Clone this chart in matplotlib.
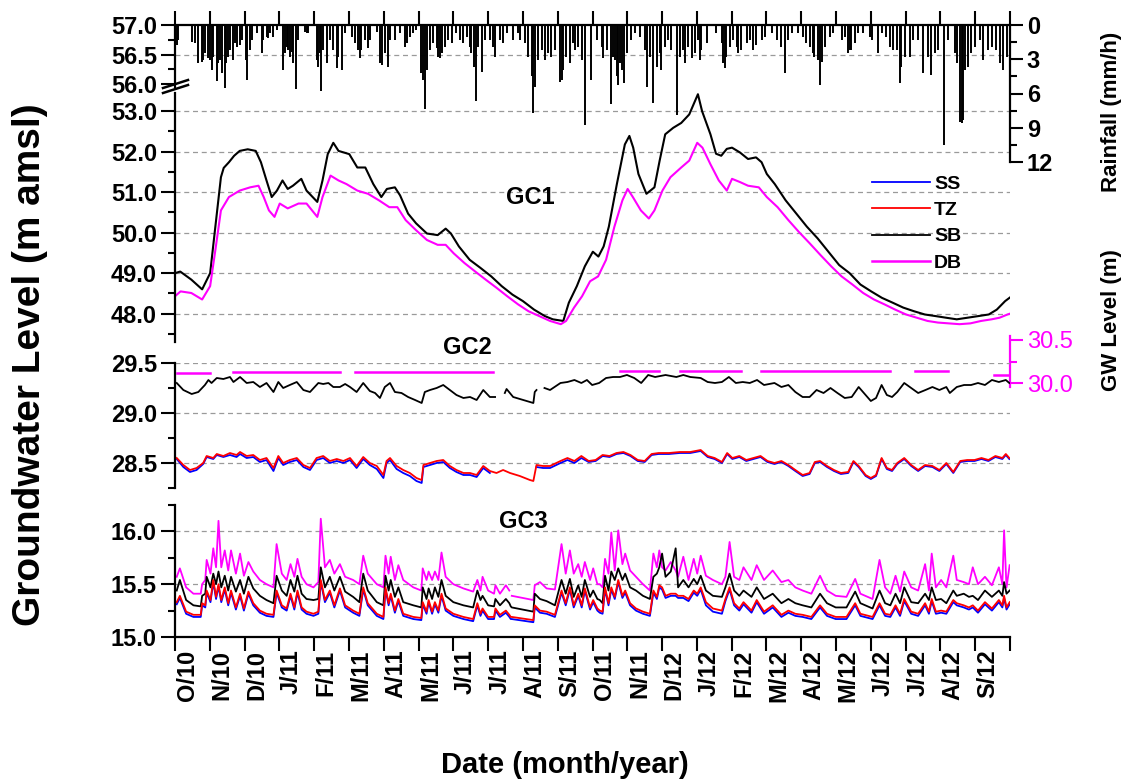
import numpy as np
import matplotlib
matplotlib.use("Agg")
from matplotlib import pyplot as plt
from matplotlib.ticker import MultipleLocator, FixedLocator, FixedFormatter, FormatStrFormatter, NullFormatter
from matplotlib.lines import Line2D

plt.rcParams["font.family"] = ["Liberation Sans", "DejaVu Sans"]
plt.rcParams["font.weight"] = "bold"

nan = np.nan

# time axis in months since 1 Oct 2010
months = ["O/10", "N/10", "D/10", "J/11", "F/11", "M/11", "A/11", "M/11", "J/11", "J/11", "A/11", "S/11",
          "O/11", "N/11", "D/12", "J/12", "F/12", "M/12", "A/12", "M/12", "J/12", "J/12", "A/12", "S/12"]

# rainfall events (mm/h)
rain_t = [0.05, 0.10, 0.48, 0.57, 0.67, 0.77, 0.81, 0.86, 0.96,
          1.01, 1.05, 1.10, 1.20, 1.25, 1.29, 1.34, 1.44, 1.48, 1.53, 1.58, 1.68, 1.72, 1.77, 1.87, 1.92,
          2.04, 2.08, 2.16, 2.20, 2.35, 2.49, 2.54, 2.63, 2.68, 2.73, 2.83, 2.92,
          3.11, 3.16, 3.21, 3.26, 3.30, 3.35, 3.40, 3.47, 3.54, 3.74, 3.78, 3.83,
          4.07, 4.12, 4.17, 4.21, 4.26, 4.36, 4.45, 4.55, 4.65, 4.69, 4.79, 4.89,
          5.08, 5.17, 5.27, 5.32, 5.36, 5.46, 5.56, 5.60, 5.80, 5.89, 5.94, 6.03, 6.13,
          6.18, 6.32, 6.47, 6.61, 6.68, 6.75, 6.85, 6.94,
          7.06, 7.12, 7.18, 7.23, 7.33, 7.42, 7.52, 7.57, 7.61, 7.66, 7.76, 7.85, 7.95,
          8.09, 8.19, 8.29, 8.38, 8.48, 8.52, 8.59, 8.64, 8.72, 8.81, 8.91,
          9.05, 9.15, 9.20, 9.34, 9.43, 9.53, 9.72, 9.87, 9.91,
          10.06, 10.15, 10.25, 10.30, 10.34, 10.44, 10.54, 10.63, 10.73, 10.82, 10.92,
          11.06, 11.11, 11.16, 11.25, 11.35, 11.45, 11.49, 11.59, 11.69, 11.78,
          11.97, 12.12, 12.26, 12.31, 12.41, 12.53, 12.60, 12.64, 12.69, 12.74, 12.79, 12.84, 12.91, 12.98,
          13.12, 13.22, 13.36, 13.51, 13.58, 13.65, 13.74, 13.84, 13.94, 13.98,
          14.08, 14.18, 14.27, 14.42, 14.51, 14.61, 14.66, 14.75, 14.85, 14.94, 15.02,
          15.09, 15.13, 15.28, 15.56, 15.71, 15.76, 15.80, 15.85, 15.95, 16.04,
          16.14, 16.19, 16.28, 16.43, 16.52, 16.62, 16.71, 16.86, 16.95,
          17.15, 17.29, 17.43, 17.53, 17.62, 17.72, 17.91,
          18.05, 18.14, 18.24, 18.33, 18.38, 18.49, 18.53, 18.60, 18.68, 18.82, 18.92,
          19.16, 19.25, 19.35, 19.40, 19.44, 19.54, 19.64, 19.78, 19.97, 20.02,
          20.21, 20.31, 20.45, 20.55, 20.64, 20.74, 20.83, 20.88, 20.98,
          21.12, 21.22, 21.36, 21.50, 21.65, 21.74, 21.84, 21.93,
          22.11, 22.22, 22.41, 22.49, 22.56, 22.61, 22.65, 22.70, 22.80, 22.89, 22.99,
          23.13, 23.23, 23.37, 23.47, 23.61, 23.71, 23.80, 23.90]
rain_mm = [1.75, 1.31, 1.46, 1.6, 3.36, 3.21, 3.06, 2.48, 2.92,
           3.06, 3.94, 2.77, 4.9, 3.36, 3.06, 4.23, 5.49, 3.36, 2.77, 2.19, 3.06, 1.6, 1.9, 1.75, 1.31,
           3.06, 4.82, 2.19, 1.31, 0.73, 2.48, 1.31, 1.02, 1.17, 0.73, 1.02, 0.44,
           3.94, 2.48, 1.9, 2.19, 2.77, 2.33, 3.36, 5.6, 1.31, 0.58, 0.73, 0.73,
           3.06, 3.65, 2.48, 5.78, 2.19, 3.36, 1.31, 2.19, 3.8, 2.77, 3.94, 0.73,
           1.02, 1.6, 2.19, 2.92, 2.19, 1.31, 2.04, 1.31, 0.58, 3.36, 3.5, 2.48, 3.65,
           1.31, 1.31, 0.73, 1.9, 1.6, 1.02, 0.73, 0.44,
           4.23, 4.82, 7.4, 3.94, 2.19, 1.6, 2.04, 2.77, 2.92, 2.48, 1.9, 1.31, 1.6,
           0.73, 1.31, 1.6, 1.02, 1.9, 2.48, 3.65, 6.63, 1.9, 4.09, 1.31,
           1.31, 1.9, 2.77, 1.31, 1.6, 0.73, 1.31, 0.73, 1.31,
           1.6, 2.77, 4.5, 7.74, 5.4, 3.06, 2.19, 3.06, 2.48, 2.77, 2.19,
           4.96, 4.82, 3.94, 2.77, 3.36, 1.6, 2.19, 1.9, 3.06, 8.76,
           4.82, 1.31, 1.9, 2.92, 2.19, 6.92, 2.77, 3.06, 4.5, 5.25, 3.36, 3.94, 5.11, 2.48,
           1.31, 0.73, 1.02, 2.19, 5.4, 2.77, 6.86, 3.65, 2.48, 3.94,
           1.9, 1.31, 2.19, 7.88, 2.77, 2.19, 3.36, 1.9, 2.92, 2.48, 1.31,
           3.06, 2.19, 1.6, 0.73, 1.6, 3.36, 3.8, 2.77, 1.9, 1.31,
           1.9, 2.48, 2.19, 1.6, 1.31, 2.19, 1.75, 1.31, 1.02,
           0.73, 1.31, 1.9, 4.23, 1.31, 0.73, 0.73,
           1.02, 1.6, 1.9, 2.48, 2.77, 3.06, 5.25, 3.21, 1.9, 1.02, 0.73,
           1.31, 1.02, 2.48, 2.19, 2.19, 1.6, 0.73, 0.73, 1.02, 1.31,
           2.48, 0.73, 1.02, 1.9, 2.19, 2.19, 5.11, 3.65, 2.77,
           2.77, 1.31, 1.31, 4.23, 2.77, 4.36, 2.48, 2.19,
           10.5, 1.31, 2.48, 3.36, 8.47, 8.55, 8.3, 3.94, 3.65, 2.48, 1.9,
           1.31, 3.06, 2.19, 1.9, 2.19, 3.36, 3.94, 2.77]

# GC1 (m amsl)
gc1_sb_t = [0.0, 0.15, 0.47, 0.78, 1.01, 1.16, 1.32, 1.40, 1.55, 1.70, 1.86, 2.09, 2.32, 2.47, 2.63,
            2.78, 2.93, 3.09, 3.24, 3.39, 3.63, 3.78, 4.09, 4.24, 4.39, 4.55, 4.70, 5.01, 5.24, 5.47,
            5.70, 5.93, 6.09, 6.32, 6.47, 6.70, 6.93, 7.24, 7.55, 7.78, 7.93, 8.16, 8.47, 8.78, 9.09,
            9.39, 9.70, 10.00, 10.32, 10.63, 10.86, 11.16, 11.32, 11.55, 11.78, 12.01, 12.17, 12.32, 12.47, 12.70,
            12.93, 13.06, 13.17, 13.32, 13.55, 13.78, 13.93, 14.09, 14.32, 14.55, 14.78, 15.03, 15.15, 15.39, 15.55,
            15.70, 15.86, 16.01, 16.24, 16.47, 16.70, 16.86, 17.01, 17.24, 17.55, 17.86, 18.16, 18.47, 18.78, 19.09,
            19.39, 19.70, 20.01, 20.32, 20.63, 20.93, 21.24, 21.55, 21.86, 22.16, 22.47, 22.78, 23.09, 23.39, 23.62,
            23.86, 24.0]
gc1_sb = [49.0, 49.04, 48.84, 48.6, 49.0, 50.15, 51.37, 51.6, 51.74, 51.9, 52.02, 52.06, 52.02, 51.74, 51.29,
          50.88, 51.04, 51.29, 51.08, 51.16, 51.33, 51.04, 50.76, 51.29, 51.94, 52.22, 52.02, 51.94, 51.61, 51.61,
          51.2, 50.88, 51.08, 51.12, 50.92, 50.47, 50.23, 49.98, 49.94, 50.1, 49.98, 49.66, 49.33, 49.13, 48.92,
          48.68, 48.47, 48.31, 48.1, 47.94, 47.86, 47.82, 48.27, 48.68, 49.17, 49.53, 49.41, 49.66, 50.15, 51.2,
          52.18, 52.39, 52.1, 51.45, 50.96, 51.12, 51.78, 52.43, 52.59, 52.71, 52.92, 53.42, 53.0, 52.43, 51.95,
          51.9, 52.07, 52.1, 51.98, 51.82, 51.86, 51.74, 51.45, 51.2, 50.8, 50.47, 50.15, 49.86, 49.53, 49.2,
          49.0, 48.72, 48.55, 48.39, 48.27, 48.15, 48.06, 47.98, 47.94, 47.9, 47.86, 47.9, 47.94, 47.98, 48.1,
          48.31, 48.40]
gc1_db_t = [0.0, 0.16, 0.47, 0.78, 1.01, 1.16, 1.32, 1.55, 1.86, 2.16, 2.40, 2.55, 2.70, 2.86, 3.01,
            3.24, 3.55, 3.78, 4.09, 4.24, 4.47, 4.70, 4.93, 5.24, 5.55, 5.86, 6.16, 6.39, 6.63, 6.93,
            7.24, 7.55, 7.78, 8.01, 8.32, 8.63, 8.93, 9.24, 9.55, 9.86, 10.16, 10.47, 10.78, 11.09, 11.24,
            11.47, 11.70, 11.93, 12.16, 12.39, 12.63, 12.86, 13.01, 13.16, 13.39, 13.62, 13.78, 14.01, 14.24, 14.55,
            14.78, 15.01, 15.16, 15.39, 15.63, 15.86, 16.01, 16.24, 16.47, 16.78, 17.01, 17.32, 17.63, 17.93, 18.24,
            18.55, 18.86, 19.16, 19.47, 19.78, 20.09, 20.39, 20.70, 21.01, 21.32, 21.63, 21.93, 22.24, 22.55, 22.86,
            23.17, 23.47, 23.70, 23.93, 24.0]
gc1_db = [48.43, 48.55, 48.51, 48.35, 48.68, 49.57, 50.55, 50.88, 51.04, 51.12, 51.16, 50.88, 50.55, 50.39, 50.72,
          50.6, 50.72, 50.72, 50.39, 50.88, 51.41, 51.29, 51.2, 51.04, 50.96, 50.8, 50.63, 50.63, 50.31, 50.06,
          49.82, 49.7, 49.7, 49.49, 49.25, 49.04, 48.84, 48.64, 48.43, 48.23, 48.06, 47.94, 47.82, 47.74, 47.82,
          48.15, 48.43, 48.8, 48.92, 49.33, 50.15, 50.8, 51.08, 50.88, 50.55, 50.35, 50.55, 51.04, 51.37, 51.61,
          51.78, 52.22, 52.1, 51.69, 51.29, 51.04, 51.33, 51.25, 51.16, 51.12, 50.88, 50.63, 50.31, 50.02, 49.74,
          49.45, 49.17, 48.92, 48.72, 48.51, 48.35, 48.23, 48.1, 47.98, 47.9, 47.82, 47.78, 47.76, 47.74, 47.76,
          47.82, 47.86, 47.9, 47.98, 48.0]

# GC2 (m amsl), SS and TZ on a shared time base
gc2_t = [0.05, 0.24, 0.43, 0.62, 0.81, 0.91, 1.10, 1.20, 1.39, 1.58,
         1.77, 1.87, 2.06, 2.25, 2.44, 2.63, 2.83, 2.97, 3.11, 3.30,
         3.50, 3.69, 3.88, 4.07, 4.26, 4.45, 4.65, 4.84, 5.03, 5.22,
         5.41, 5.60, 5.80, 5.99, 6.08, 6.18, 6.37, 6.56, 6.75, 6.94,
         7.09, 7.14, 7.33, 7.52, 7.71, 7.90, 8.09, 8.29, 8.48, 8.67,
         8.86, 9.05, 9.24, 9.43, 9.63, 9.91, 10.20, 10.30, 10.39, 10.58,
         10.78, 11.08, 11.28, 11.48, 11.68, 11.89, 12.09, 12.29, 12.49, 12.69,
         12.89, 13.09, 13.30, 13.50, 13.70, 13.90, 14.20, 14.51, 14.81, 15.11,
         15.31, 15.51, 15.72, 15.87, 16.02, 16.22, 16.42, 16.62, 16.83, 17.03,
         17.23, 17.43, 17.63, 17.83, 18.04, 18.24, 18.39, 18.54, 18.74, 18.94,
         19.14, 19.35, 19.50, 19.65, 19.85, 20.00, 20.15, 20.31, 20.46, 20.61,
         20.76, 20.96, 21.16, 21.36, 21.56, 21.77, 21.97, 22.17, 22.37, 22.57,
         22.77, 22.98, 23.18, 23.38, 23.58, 23.78, 23.88, 23.98]
gc2_tz = [28.55, 28.48, 28.43, 28.45, 28.50, 28.57, 28.55, 28.59, 28.57, 28.60,
          28.58, 28.61, 28.57, 28.58, 28.53, 28.55, 28.45, 28.57, 28.50, 28.53,
          28.55, 28.48, 28.45, 28.55, 28.57, 28.52, 28.54, 28.52, 28.55, 28.47,
          28.56, 28.50, 28.47, 28.38, 28.52, 28.55, 28.47, 28.43, 28.40, 28.35,
          28.33, 28.48, 28.50, 28.52, 28.53, 28.47, 28.43, 28.40, 28.40, 28.38,
          28.47, 28.42, 28.40, 28.43, 28.40, 28.37, 28.33, 28.32, 28.48, 28.47,
          28.47, 28.52, 28.55, 28.52, 28.57, 28.52, 28.53, 28.58, 28.57, 28.60,
          28.61, 28.58, 28.53, 28.52, 28.59, 28.60, 28.60, 28.61, 28.61, 28.63,
          28.57, 28.55, 28.51, 28.60, 28.55, 28.57, 28.53, 28.55, 28.57, 28.52,
          28.50, 28.52, 28.48, 28.43, 28.38, 28.40, 28.51, 28.52, 28.47, 28.43,
          28.40, 28.41, 28.52, 28.47, 28.38, 28.35, 28.38, 28.55, 28.45, 28.43,
          28.50, 28.55, 28.48, 28.43, 28.48, 28.47, 28.43, 28.50, 28.41, 28.52,
          28.53, 28.53, 28.55, 28.53, 28.57, 28.55, 28.59, 28.55]
gc2_ss = [28.54, 28.46, 28.41, 28.43, 28.49, 28.56, 28.54, 28.58, 28.56, 28.58,
          28.56, 28.59, 28.55, 28.56, 28.51, 28.53, 28.42, 28.55, 28.48, 28.51,
          28.53, 28.46, 28.43, 28.53, 28.55, 28.50, 28.52, 28.50, 28.53, 28.45,
          28.54, 28.48, 28.44, 28.35, 28.50, 28.53, 28.44, 28.40, 28.37, 28.32,
          28.30, 28.46, 28.48, 28.50, 28.51, 28.45, 28.41, 28.38, 28.38, 28.36,
          28.45, 28.40, nan, nan, nan, nan, nan, nan, 28.46, 28.45,
          28.45, 28.50, 28.53, 28.50, 28.55, 28.51, 28.52, 28.57, 28.56, 28.59,
          28.60, 28.57, 28.52, 28.51, 28.58, 28.59, 28.59, 28.60, 28.60, 28.62,
          28.56, 28.54, 28.50, 28.59, 28.54, 28.56, 28.52, 28.54, 28.56, 28.51,
          28.49, 28.51, 28.47, 28.42, 28.37, 28.39, 28.50, 28.51, 28.46, 28.42,
          28.39, 28.40, 28.51, 28.46, 28.37, 28.34, 28.37, 28.54, 28.44, 28.42,
          28.49, 28.54, 28.47, 28.42, 28.47, 28.46, 28.42, 28.49, 28.40, 28.51,
          28.52, 28.52, 28.54, 28.52, 28.56, 28.54, 28.58, 28.54]
gc2_sb_t = [0.05, 0.24, 0.48, 0.67, 0.86, 0.96, 1.05, 1.20, 1.39, 1.58,
            1.68, 1.87, 2.06, 2.25, 2.44, 2.63, 2.83, 2.97, 3.11, 3.30,
            3.50, 3.69, 3.88, 4.12, 4.26, 4.41, 4.55, 4.74, 4.89, 5.03,
            5.22, 5.41, 5.60, 5.75, 5.89, 6.03, 6.18, 6.32, 6.51, 6.70,
            6.90, 7.09, 7.18, 7.33, 7.52, 7.71, 7.90, 8.09, 8.29, 8.48,
            8.67, 8.86, 9.05, 9.20, 9.34, 9.48, 9.53, 9.72, 10.01, 10.30,
            10.34, 10.39, 10.50, 10.62, 10.78, 11.08, 11.28, 11.48, 11.68, 11.84,
            11.99, 12.19, 12.39, 12.59, 12.79, 12.99, 13.20, 13.40, 13.60, 13.80,
            14.10, 14.41, 14.61, 14.81, 15.11, 15.31, 15.52, 15.72, 15.92, 16.12,
            16.32, 16.52, 16.73, 16.93, 17.23, 17.43, 17.63, 17.83, 18.04, 18.24,
            18.44, 18.64, 18.84, 19.04, 19.25, 19.45, 19.65, 19.85, 20.00, 20.15,
            20.31, 20.46, 20.61, 20.76, 20.96, 21.16, 21.36, 21.57, 21.77, 21.97,
            22.17, 22.27, 22.47, 22.68, 22.88, 23.08, 23.28, 23.48, 23.68, 23.88,
            23.98]
gc2_sb = [29.30, 29.23, 29.19, 29.21, 29.28, 29.33, 29.30, 29.35, 29.34, 29.36,
          29.31, 29.36, 29.30, 29.31, 29.26, 29.30, 29.21, 29.31, 29.25, 29.28,
          29.31, 29.23, 29.21, 29.30, 29.29, 29.30, 29.26, 29.26, 29.29, 29.26,
          29.21, 29.30, 29.22, 29.20, 29.15, 29.26, 29.30, 29.21, 29.20, 29.16,
          29.13, 29.10, 29.21, 29.23, 29.25, 29.28, 29.23, 29.18, 29.15, 29.16,
          29.13, 29.23, 29.16, 29.16, nan, 29.20, 29.24, 29.16, 29.13, 29.10,
          29.21, 29.23, nan, 29.25, 29.23, 29.30, 29.31, 29.33, 29.30, 29.33,
          29.28, 29.30, 29.35, 29.36, 29.36, 29.38, 29.35, 29.30, 29.38, 29.36,
          29.38, 29.36, 29.38, 29.36, 29.35, 29.31, 29.30, 29.31, 29.36, 29.30,
          29.31, 29.30, 29.33, 29.28, 29.30, 29.26, 29.28, 29.21, 29.16, 29.16,
          29.23, 29.20, 29.25, 29.20, 29.15, 29.16, 29.26, 29.18, 29.12, 29.15,
          29.28, 29.18, 29.16, 29.21, 29.30, 29.25, 29.20, 29.23, 29.26, 29.23,
          29.26, 29.20, 29.26, 29.28, 29.28, 29.30, 29.28, 29.33, 29.31, 29.33,
          29.30]
# GC2 DB on its own scale (GW Level, m), logged in separate runs
gc2_db_t = [0.05, 1.00, 1.3, 1.68, 4.74, 5.0, 5.17, 9.15, 11.0, 12.79, 13.90, 14.2, 14.51, 16.27, 16.5,
            16.83, 20.56, 20.9, 21.26, 22.22, 22.9, 23.53, 23.93]
gc2_db = [30.12, 30.12, nan, 30.125, 30.125, nan, 30.13, 30.13, nan, 30.145, 30.145, nan, 30.145, 30.145, nan,
          30.145, 30.145, nan, 30.145, 30.145, nan, 30.10, 30.10]

# GC3 (m amsl), all four sensors on a shared time base
gc3_t = [0.05, 0.14, 0.32, 0.53, 0.74, 0.78, 0.87, 0.91, 1.02, 1.10,
         1.18, 1.25, 1.33, 1.43, 1.53, 1.61, 1.75, 1.87, 1.98, 2.11,
         2.25, 2.44, 2.63, 2.83, 2.92, 3.07, 3.21, 3.32, 3.43, 3.52,
         3.64, 3.78, 3.98, 4.12, 4.19, 4.31, 4.45, 4.58, 4.74, 4.89,
         5.12, 5.30, 5.41, 5.54, 5.80, 5.99, 6.05, 6.14, 6.20, 6.32,
         6.42, 6.56, 6.85, 7.08, 7.12, 7.23, 7.29, 7.39, 7.47, 7.57,
         7.66, 7.78, 8.00, 8.29, 8.57, 8.69, 8.78, 8.84, 9.00, 9.17,
         9.21, 9.34, 9.51, 9.61, 9.65, 9.68, 10.30, 10.34, 10.49, 10.68,
         10.92, 11.11, 11.23, 11.35, 11.46, 11.59, 11.69, 11.78, 11.93, 12.02,
         12.14, 12.21, 12.29, 12.36, 12.46, 12.54, 12.64, 12.74, 12.86, 12.94,
         13.08, 13.25, 13.45, 13.65, 13.75, 13.85, 13.92, 14.00, 14.10, 14.25,
         14.39, 14.46, 14.61, 14.76, 14.91, 15.01, 15.11, 15.26, 15.46, 15.72,
         15.82, 15.94, 16.07, 16.22, 16.34, 16.57, 16.72, 16.93, 17.18, 17.43,
         17.63, 17.83, 18.04, 18.29, 18.54, 18.74, 18.99, 19.30, 19.55, 19.70,
         20.05, 20.25, 20.41, 20.56, 20.71, 20.84, 20.96, 21.16, 21.36, 21.56,
         21.67, 21.75, 21.87, 22.02, 22.17, 22.37, 22.47, 22.67, 22.82, 22.93,
         23.08, 23.28, 23.48, 23.68, 23.78, 23.83, 23.90, 23.99]
gc3_db = [15.57, 15.65, 15.47, 15.41, 15.41, 15.50, 15.54, 15.73, 15.60, 15.84,
          15.66, 16.10, 15.66, 15.82, 15.63, 15.82, 15.60, 15.79, 15.58, 15.71,
          15.62, 15.54, 15.50, 15.47, 15.88, 15.60, 15.54, 15.69, 15.57, 15.74,
          15.57, 15.50, 15.47, 15.52, 16.12, 15.66, 15.73, 15.60, 15.69, 15.57,
          15.54, 15.50, 15.77, 15.60, 15.50, 15.47, 15.77, 15.60, 15.76, 15.54,
          15.68, 15.54, 15.47, 15.44, 15.65, 15.54, 15.62, 15.54, 15.62, 15.54,
          15.80, 15.57, 15.50, 15.46, 15.43, 15.54, 15.44, 15.57, 15.44, 15.41,
          15.49, 15.41, 15.49, 15.44, nan, 15.39, 15.35, 15.49, 15.52, 15.46,
          15.45, 15.88, 15.60, 15.82, 15.60, 15.69, 15.57, 15.71, 15.54, 15.65,
          15.50, 15.50, 15.47, 15.74, 15.60, 15.99, 15.63, 16.01, 15.69, 15.79,
          15.63, 15.57, 15.50, 15.44, 15.79, 15.66, 15.82, 15.66, 15.63, 15.71,
          15.63, 15.57, 15.76, 15.54, 15.74, 15.60, 15.77, 15.58, 15.54, 15.50,
          15.57, 15.90, 15.57, 15.54, 15.66, 15.54, 15.68, 15.54, 15.63, 15.52,
          15.54, 15.47, 15.44, 15.41, 15.58, 15.44, 15.39, 15.38, 15.55, 15.41,
          15.36, 15.73, 15.47, 15.41, 15.58, 15.43, 15.62, 15.47, 15.44, 15.69,
          15.44, 15.79, 15.47, 15.54, 15.47, 15.77, 15.54, 15.52, 15.50, 15.66,
          15.50, 15.57, 15.49, 15.66, 15.50, 16.01, 15.47, 15.68]
gc3_sb = [15.44, 15.54, 15.35, 15.30, 15.29, 15.39, 15.41, 15.57, 15.47, 15.60,
          15.50, 15.62, 15.47, 15.58, 15.44, 15.57, 15.43, 15.54, 15.41, 15.57,
          15.46, 15.39, 15.35, 15.32, 15.58, 15.44, 15.39, 15.54, 15.43, 15.58,
          15.41, 15.36, 15.35, 15.36, 15.66, 15.47, 15.57, 15.44, 15.57, 15.43,
          15.38, 15.33, 15.60, 15.44, 15.33, 15.30, 15.58, 15.44, 15.54, 15.38,
          15.47, 15.33, 15.30, 15.28, 15.47, 15.36, 15.46, 15.36, 15.47, 15.38,
          15.54, 15.39, 15.33, 15.30, 15.28, 15.44, 15.35, 15.39, 15.30, 15.29,
          15.36, 15.30, 15.36, 15.32, 15.29, 15.28, 15.24, 15.41, 15.36, 15.34,
          15.30, 15.54, 15.41, 15.55, 15.38, 15.49, 15.38, 15.54, 15.38, 15.44,
          15.36, 15.35, 15.32, 15.58, 15.44, 15.62, 15.54, 15.65, 15.54, 15.60,
          15.47, 15.44, 15.39, 15.36, 15.57, 15.60, 15.66, 15.79, 15.57, 15.62,
          15.84, 15.47, 15.54, 15.47, 15.55, 15.50, 15.58, 15.44, 15.39, 15.38,
          15.47, 15.60, 15.44, 15.39, 15.44, 15.38, 15.47, 15.36, 15.41, 15.32,
          15.36, 15.32, 15.30, 15.28, 15.41, 15.32, 15.28, 15.28, 15.43, 15.32,
          15.27, 15.44, 15.32, 15.30, 15.41, 15.32, 15.47, 15.33, 15.32, 15.41,
          15.35, 15.47, 15.35, 15.36, 15.32, 15.44, 15.39, 15.41, 15.38, 15.39,
          15.35, 15.44, 15.38, 15.44, 15.39, 15.52, 15.41, 15.44]
gc3_tz = [15.33, 15.39, 15.24, 15.21, 15.21, 15.32, 15.30, 15.44, 15.35, 15.54,
          15.38, 15.50, 15.35, 15.47, 15.32, 15.44, 15.28, 15.41, 15.27, 15.43,
          15.32, 15.25, 15.22, 15.21, 15.44, 15.30, 15.27, 15.41, 15.28, 15.44,
          15.28, 15.24, 15.22, 15.24, 15.54, 15.35, 15.44, 15.30, 15.46, 15.30,
          15.25, 15.22, 15.47, 15.32, 15.22, 15.19, 15.47, 15.32, 15.41, 15.25,
          15.36, 15.22, 15.19, 15.18, 15.33, 15.24, 15.35, 15.24, 15.33, 15.25,
          15.41, 15.27, 15.22, 15.19, 15.17, 15.32, 15.22, 15.27, 15.19, 15.19,
          15.27, 15.21, 15.25, 15.21, 15.19, 15.19, 15.16, 15.30, 15.25, 15.24,
          15.21, 15.44, 15.32, 15.47, 15.30, 15.41, 15.30, 15.46, 15.28, 15.35,
          15.27, 15.25, 15.24, 15.47, 15.32, 15.47, 15.38, 15.54, 15.39, 15.44,
          15.32, 15.27, 15.24, 15.22, 15.44, 15.38, 15.49, 15.47, 15.39, 15.41,
          15.41, 15.39, 15.39, 15.36, 15.44, 15.41, 15.47, 15.33, 15.27, 15.25,
          15.36, 15.47, 15.32, 15.27, 15.33, 15.25, 15.35, 15.24, 15.30, 15.21,
          15.25, 15.22, 15.21, 15.19, 15.30, 15.22, 15.19, 15.19, 15.32, 15.22,
          15.19, 15.32, 15.22, 15.21, 15.30, 15.22, 15.36, 15.24, 15.22, 15.32,
          15.24, 15.36, 15.24, 15.25, 15.24, 15.35, 15.32, 15.30, 15.28, 15.30,
          15.25, 15.33, 15.27, 15.35, 15.30, 15.39, 15.28, 15.33]
gc3_ss = [15.31, 15.37, 15.22, 15.19, 15.19, 15.30, 15.28, 15.42, 15.33, 15.52,
          15.36, 15.48, 15.33, 15.45, 15.30, 15.42, 15.26, 15.39, 15.25, 15.41,
          15.30, 15.23, 15.20, 15.19, 15.42, 15.28, 15.25, 15.39, 15.26, 15.42,
          15.26, 15.22, 15.20, 15.22, 15.52, 15.33, 15.42, 15.28, 15.44, 15.28,
          15.23, 15.20, 15.45, 15.30, 15.20, 15.17, 15.45, 15.30, 15.39, 15.23,
          15.34, 15.20, 15.17, 15.16, 15.31, 15.22, 15.33, 15.22, 15.31, 15.23,
          15.39, 15.25, 15.20, 15.17, 15.15, 15.30, 15.20, 15.25, 15.17, 15.17,
          15.25, 15.19, 15.23, 15.19, 15.17, 15.17, 15.14, 15.28, 15.23, 15.22,
          15.19, 15.42, 15.30, 15.45, 15.28, 15.39, 15.28, 15.44, 15.26, 15.33,
          15.25, 15.23, 15.22, 15.45, 15.30, 15.45, 15.36, 15.52, 15.37, 15.42,
          15.30, 15.25, 15.22, 15.20, 15.42, 15.36, 15.47, 15.45, 15.37, 15.39,
          15.39, 15.37, 15.37, 15.34, 15.42, 15.39, 15.45, 15.30, 15.24, 15.22,
          15.34, 15.45, 15.30, 15.25, 15.31, 15.23, 15.33, 15.22, 15.28, 15.19,
          15.23, 15.20, 15.19, 15.17, 15.28, 15.20, 15.17, 15.17, 15.30, 15.20,
          15.17, 15.30, 15.20, 15.19, 15.28, 15.20, 15.34, 15.22, 15.20, 15.30,
          15.22, 15.34, 15.22, 15.23, 15.22, 15.33, 15.30, 15.28, 15.26, 15.28,
          15.23, 15.31, 15.25, 15.33, 15.28, 15.37, 15.26, 15.31]

C_SS, C_TZ, C_SB, C_DB = "#0000ff", "#ff0000", "#000000", "#ff00ff"
GRID = dict(color="#9a9a9a", lw=0.9, ls=(0, (4, 3)), zorder=0)

W, H = 1135, 784
fig = plt.figure(figsize=(W / 100, H / 100), dpi=100)


def panel(x0, y0, x1, y1):
    return fig.add_axes([x0 / W, 1 - y1 / H, (x1 - x0) / W, (y1 - y0) / H])


def left_axis(ax, lo, hi, major, minor, grid):
    ax.set_xlim(0, 24)
    ax.set_ylim(lo, hi)
    ax.patch.set_visible(False)
    for s in ["top", "right", "bottom"]:
        ax.spines[s].set_visible(False)
    ax.spines["left"].set_linewidth(1.6)
    ax.yaxis.set_major_locator(MultipleLocator(major))
    ax.yaxis.set_minor_locator(MultipleLocator(minor))
    ax.yaxis.set_major_formatter(FormatStrFormatter("%.1f"))
    ax.tick_params(axis="y", which="major", direction="out", length=10, width=1.5, labelsize=17, pad=3)
    ax.tick_params(axis="y", which="minor", direction="out", length=5, width=1.5)
    ax.tick_params(axis="x", which="both", bottom=False, labelbottom=False)
    for g in grid:
        ax.axhline(g, **GRID)


ax_top = panel(175, 25, 1010, 87)
ax1 = panel(175, 93, 1010, 342)
ax_rain = panel(175, 25, 1010, 162)
ax_db2 = panel(175, 336, 1010, 387)
ax2 = panel(175, 363, 1010, 488)
ax3 = panel(175, 505, 1010, 637)

# top strip of the broken GW axis
left_axis(ax_top, 55.95, 57.0, 0.5, 0.25, [56.5])
ax_top.spines["top"].set_visible(True)
ax_top.spines["top"].set_linewidth(1.6)
ax_top.xaxis.set_major_locator(FixedLocator(range(25)))
ax_top.tick_params(axis="x", which="major", top=True, labeltop=False, direction="out", length=10, width=1.5)

# GC1
left_axis(ax1, 47.3, 53.45, 1.0, 0.5, [48, 49, 50, 51, 52, 53])
ax1.plot(gc1_sb_t, gc1_sb, color=C_SB, lw=1.5)
ax1.plot(gc1_db_t, gc1_db, color=C_DB, lw=1.5)

# axis break marks
for dy in (0, 5):
    fig.add_artist(Line2D([163 / W, 188 / W], [1 - (93 - dy) / H, 1 - (85 - dy) / H],
                          transform=fig.transFigure, color="k", lw=1.8))

# rainfall, hanging from the top axis
ax_rain.set_xlim(0, 24)
ax_rain.set_ylim(12, 0)
ax_rain.patch.set_visible(False)
for s in ["top", "left", "bottom"]:
    ax_rain.spines[s].set_visible(False)
ax_rain.spines["right"].set_linewidth(1.6)
ax_rain.vlines(rain_t, 0, rain_mm, color="k", lw=1.4)
ax_rain.yaxis.tick_right()
ax_rain.yaxis.set_major_locator(FixedLocator([0, 3, 6, 9, 12]))
ax_rain.yaxis.set_minor_locator(MultipleLocator(1.5))
ax_rain.tick_params(axis="y", which="major", direction="out", length=9, width=1.5, labelsize=17, pad=3)
ax_rain.tick_params(axis="y", which="minor", direction="out", length=5, width=1.5)
ax_rain.tick_params(axis="x", which="both", bottom=False, labelbottom=False)

# GC2
left_axis(ax2, 28.25, 29.5, 0.5, 0.25, [28.5, 29.0, 29.5])
l_sb, = ax2.plot(gc2_sb_t, gc2_sb, color=C_SB, lw=1.3)
l_ss, = ax2.plot(gc2_t, gc2_ss, color=C_SS, lw=1.3)
l_tz, = ax2.plot(gc2_t, gc2_tz, color=C_TZ, lw=1.3)

# GC2 DB on its own right-hand scale
ax_db2.set_xlim(0, 24)
ax_db2.set_ylim(29.957, 30.546)
ax_db2.patch.set_visible(False)
for s in ["top", "left", "bottom"]:
    ax_db2.spines[s].set_visible(False)
ax_db2.spines["right"].set_linewidth(1.6)
ax_db2.spines["right"].set_color(C_DB)
l_db, = ax_db2.plot(gc2_db_t, gc2_db, color=C_DB, lw=1.8)
ax_db2.yaxis.tick_right()
ax_db2.yaxis.set_major_locator(FixedLocator([30.0, 30.5]))
ax_db2.yaxis.set_minor_locator(FixedLocator([30.25]))
ax_db2.yaxis.set_major_formatter(FormatStrFormatter("%.1f"))
ax_db2.tick_params(axis="y", which="both", direction="out", width=1.5, color=C_DB, labelcolor=C_DB,
                   labelsize=17, pad=3)
ax_db2.tick_params(axis="y", which="major", length=9)
ax_db2.tick_params(axis="y", which="minor", length=5)
ax_db2.tick_params(axis="x", which="both", bottom=False, labelbottom=False)
for lab in ax_db2.get_yticklabels():
    lab.set_fontweight("normal")

# GC3
left_axis(ax3, 15.0, 16.25, 0.5, 0.25, [15.5, 16.0])
ax3.plot(gc3_t, gc3_db, color=C_DB, lw=1.3)
ax3.plot(gc3_t, gc3_sb, color=C_SB, lw=1.3)
ax3.plot(gc3_t, gc3_ss, color=C_SS, lw=1.3)
ax3.plot(gc3_t, gc3_tz, color=C_TZ, lw=1.3)
ax3.spines["bottom"].set_visible(True)
ax3.spines["bottom"].set_linewidth(1.6)
ax3.xaxis.set_major_locator(FixedLocator(range(25)))
ax3.xaxis.set_major_formatter(NullFormatter())
ax3.xaxis.set_minor_locator(FixedLocator(np.arange(24) + 0.35))
ax3.xaxis.set_minor_formatter(FixedFormatter(months))
ax3.tick_params(axis="x", which="major", bottom=True, direction="out", length=10, width=1.5)
ax3.tick_params(axis="x", which="minor", bottom=True, labelbottom=True, length=0, labelsize=17,
                labelrotation=90, pad=9)

# panel names
fig.text(530 / W, 1 - 197 / H, "GC1", fontsize=17, ha="center", va="center")
fig.text(467 / W, 1 - 348 / H, "GC2", fontsize=17, ha="center", va="center")
fig.text(523 / W, 1 - 522 / H, "GC3", fontsize=17, ha="center", va="center")

fig.legend([l_ss, l_tz, l_sb, l_db], ["SS", "TZ", "SB", "DB"], loc="upper left",
           bbox_to_anchor=(872 / W, 1 - 175 / H), frameon=False, fontsize=14, handlelength=3.0,
           handletextpad=0.2, labelspacing=0.45, borderpad=0, borderaxespad=0)

fig.text(30 / W, 1 - 365 / H, "Groundwater Level (m amsl)", fontsize=28, rotation=90,
         ha="center", va="center")
fig.text(1112 / W, 1 - 112 / H, "Rainfall (mm/h)", fontsize=16, rotation=90, ha="center", va="center")
fig.text(1112 / W, 1 - 320 / H, "GW Level (m)", fontsize=16, rotation=90, ha="center", va="center")
fig.text(565 / W, 1 - 765 / H, "Date (month/year)", fontsize=21, ha="center", va="center",
         family=["Liberation Sans Narrow", "DejaVu Sans Condensed", "Liberation Sans"])

fig.savefig("out.png", dpi=100)
